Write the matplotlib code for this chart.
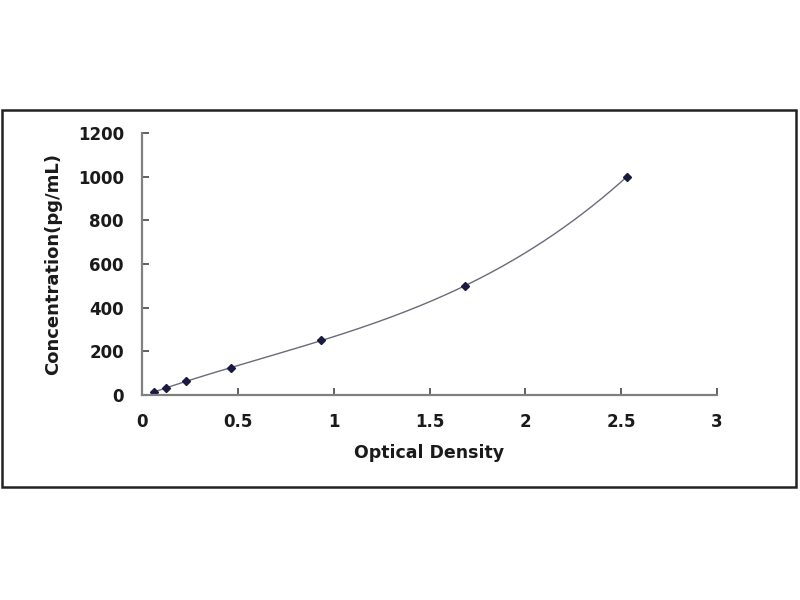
import numpy as np
import matplotlib
matplotlib.use("Agg")
import matplotlib.pyplot as plt
from matplotlib.patches import Rectangle

# Standard curve readings
od = [0.065, 0.125, 0.23, 0.465, 0.935, 1.685, 2.53]
conc = [15.6, 31.25, 62.5, 125, 250, 500, 1000]

x_ticks = [0, 0.5, 1, 1.5, 2, 2.5, 3]
x_tick_labels = ["0", "0.5", "1", "1.5", "2", "2.5", "3"]
y_ticks = [0, 200, 400, 600, 800, 1000, 1200]

fig = plt.figure(figsize=(8, 6), dpi=100)
fig.patches.append(Rectangle((0.003, 1 - 487 / 600), 0.992, (487 - 110) / 600,
                             transform=fig.transFigure, fill=False,
                             edgecolor="#222222", linewidth=1.8))

ax = fig.add_axes([0.1775, 0.3417, 0.7188, 0.4367])

# smooth trend line through the points
coef = np.polyfit(od, conc, 3)
xs = np.linspace(min(od), max(od), 200)
ax.plot(xs, np.polyval(coef, xs), color="#6a6a7a", linewidth=1.0)
ax.plot(od, conc, linestyle="none", marker="D", markersize=4.5,
        color="#1a1a40")

ax.set_xlim(0, 3)
ax.set_ylim(0, 1200)
ax.set_xticks(x_ticks)
ax.set_xticklabels(x_tick_labels)
ax.set_yticks(y_ticks)

for side in ["top", "right"]:
    ax.spines[side].set_visible(False)
for side in ["left", "bottom"]:
    ax.spines[side].set_color("#808080")
    ax.spines[side].set_linewidth(1.6)

ax.tick_params(direction="in", length=5, width=1.4, color="#606060",
               labelsize=12, pad=13)
for lab in ax.get_xticklabels() + ax.get_yticklabels():
    lab.set_fontweight("bold")
    lab.set_color("#1a1a1a")

ax.set_xlabel("Optical Density", fontsize=12.5, fontweight="bold",
              color="#1a1a1a", labelpad=9)
ax.set_ylabel("Concentration(pg/mL)", fontsize=13, fontweight="bold",
              color="#1a1a1a", labelpad=11)

fig.savefig("out.png", dpi=100)
